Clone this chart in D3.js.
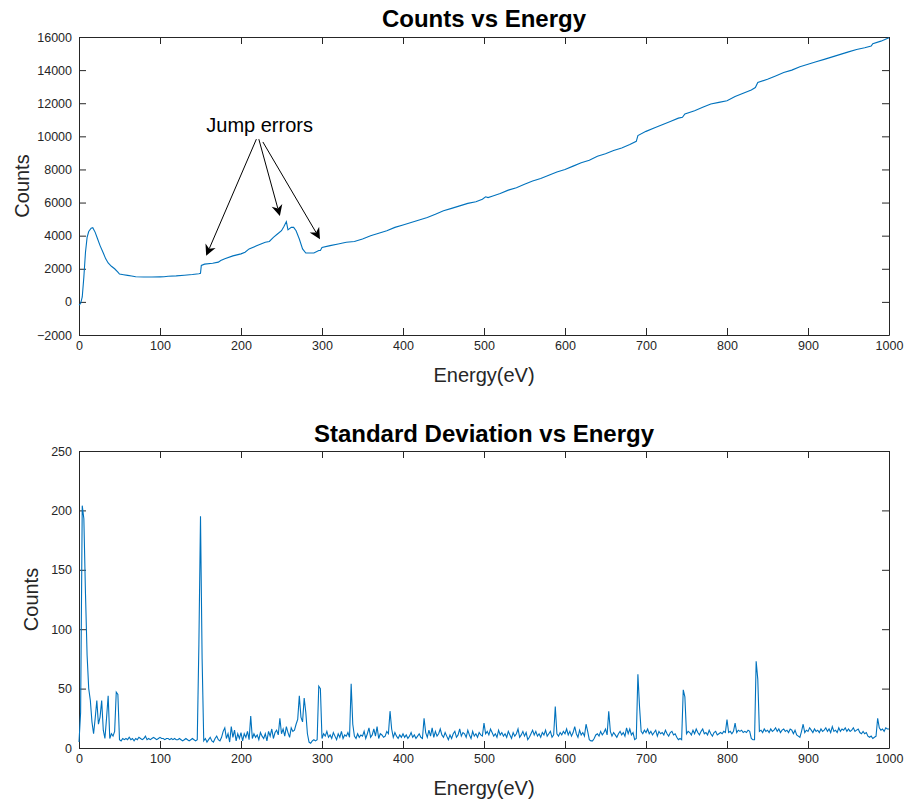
<!DOCTYPE html>
<html>
<head>
<meta charset="utf-8">
<script src="https://cdn.jsdelivr.net/npm/d3@7"></script>
<style>
  body { margin: 0; background: #fff; }
  text { font-family: 'Liberation Sans', Arial, Helvetica, sans-serif; }
</style>
</head>
<body>
<div id="chart"></div>
<script>
// counts vs energy
let countEnergy = [0, 2, 4, 6, 8, 10, 12, 15, 17, 20, 23, 26, 30, 33, 36, 40, 44, 48, 50, 55, 60, 65, 70, 80, 90, 100, 105, 110, 120, 130, 140, 148, 150, 151, 155, 165, 172, 175, 180, 190, 200, 205, 210, 220, 230, 235, 240, 245, 250, 253, 256, 258, 262, 265, 268, 272, 276, 280, 290, 296, 298, 300, 310, 320, 330, 340, 350, 360, 370, 380, 390, 400, 410, 420, 430, 440, 450, 460, 470, 480, 490, 498, 502, 505, 510, 520, 530, 540, 550, 560, 570, 580, 590, 600, 610, 620, 630, 640, 650, 660, 670, 680, 688, 690, 700, 710, 720, 730, 740, 745, 748, 760, 770, 780, 790, 800, 810, 820, 830, 835, 838, 850, 860, 870, 880, 890, 900, 910, 920, 930, 940, 950, 960, 970, 978, 980, 990, 1000]
let countValues = [-200, -100, 300, 1500, 3000, 3900, 4250, 4450, 4480, 4200, 3800, 3400, 2950, 2600, 2350, 2150, 2000, 1800, 1680, 1640, 1600, 1560, 1520, 1500, 1500, 1510, 1520, 1550, 1570, 1610, 1650, 1700, 1720, 2200, 2280, 2330, 2400, 2500, 2600, 2780, 2900, 3000, 3200, 3400, 3600, 3650, 3900, 4100, 4300, 4550, 4850, 4350, 4500, 4500, 4300, 3800, 3200, 2950, 2950, 3100, 3100, 3280, 3400, 3500, 3600, 3650, 3800, 4000, 4150, 4300, 4500, 4650, 4800, 4950, 5100, 5300, 5500, 5650, 5800, 5950, 6050, 6200, 6350, 6300, 6380, 6550, 6750, 6900, 7100, 7300, 7450, 7650, 7850, 8000, 8200, 8400, 8550, 8800, 8950, 9150, 9300, 9500, 9700, 10050, 10300, 10500, 10700, 10900, 11100, 11150, 11350, 11550, 11750, 11950, 12050, 12150, 12400, 12600, 12800, 12950, 13250, 13450, 13650, 13850, 14000, 14200, 14350, 14500, 14650, 14800, 14950, 15100, 15250, 15350, 15450, 15600, 15750, 15950]

// standard deviation, one reading every 2 eV
let sdValues = [
  5, 30, 204, 193, 130, 78, 50, 40, 22, 12, 25, 40, 20, 26, 40, 15, 8, 25, 44, 8, 12, 10, 14, 47, 45,
  7, 6, 8, 7, 8, 7, 9, 7, 8, 6, 8, 7, 9, 8, 7, 8, 10, 7, 8, 7, 8, 9, 8, 7, 8,
  9, 8, 8, 7, 8, 8, 7, 8, 7, 8, 7, 7, 8, 7, 6, 7, 8, 7, 6, 7, 8, 7, 6, 7, 87,
  195, 75, 6, 8, 5, 7, 9, 6, 5, 8, 10, 7, 6, 9, 14, 17, 8, 12, 5, 18, 9, 15, 6, 12, 8,
  13, 6, 12, 9, 14, 7, 27, 8, 12, 9, 11, 7, 13, 10, 8, 12, 6, 14, 10, 16, 8, 13, 15, 11, 25,
  12, 16, 10, 18, 13, 9, 17, 14, 15, 20, 24, 44, 26, 22, 42, 30, 12, 5, 4, 6, 7, 6, 7, 52, 50,
  8, 12, 10, 14, 9, 11, 8, 13, 10, 7, 12, 9, 14, 8, 11, 10, 13, 9, 54, 20, 10, 8, 12, 9, 11,
  10, 14, 8, 12, 17, 9, 11, 16, 10, 18, 8, 12, 11, 9, 10, 14, 12, 31, 16, 9, 13, 10, 8, 11, 9,
  12, 9, 11, 8, 10, 13, 9, 11, 8, 10, 12, 9, 8, 25, 13, 9, 15, 10, 17, 9, 14, 10, 12, 16, 11,
  9, 13, 10, 7, 11, 8, 12, 14, 9, 11, 16, 10, 13, 12, 9, 15, 11, 8, 14, 10, 12, 9, 13, 11, 10,
  21, 12, 14, 11, 16, 13, 10, 12, 9, 15, 11, 13, 10, 12, 9, 14, 11, 8, 13, 10, 12, 16, 9, 11, 14,
  10, 13, 7, 9, 12, 15, 11, 14, 10, 12, 9, 13, 11, 15, 10, 12, 14, 9, 11, 35, 12, 10, 13, 11, 14,
  12, 16, 11, 14, 10, 13, 18, 12, 9, 15, 11, 13, 10, 20, 14, 7, 6, 6, 8, 11, 12, 10, 14, 11, 13,
  16, 11, 31, 14, 10, 13, 11, 9, 12, 14, 11, 13, 10, 17, 12, 16, 11, 13, 7, 8, 62, 35, 14, 12, 15,
  13, 16, 12, 14, 11, 13, 15, 10, 14, 12, 13, 11, 15, 12, 10, 13, 14, 11, 12, 9, 7, 8, 7, 49, 43,
  12, 14, 13, 11, 15, 12, 16, 13, 11, 14, 16, 12, 13, 11, 15, 12, 10, 13, 14, 11, 12, 13, 12, 14, 13,
  24, 13, 14, 12, 14, 21, 13, 15, 14, 15, 13, 14, 13, 15, 14, 8, 7, 7, 73, 58, 14, 15, 13, 16, 14,
  15, 13, 16, 14, 15, 17, 14, 16, 13, 15, 16, 14, 15, 13, 16, 15, 12, 15, 11, 10, 9, 14, 20, 13, 15,
  14, 17, 15, 13, 16, 14, 15, 13, 16, 14, 15, 17, 14, 16, 13, 18, 14, 15, 13, 17, 14, 16, 15, 17, 14,
  16, 14, 15, 17, 14, 15, 16, 13, 12, 14, 12, 13, 10, 9, 10, 8, 9, 10, 25, 17, 15, 16, 14, 17, 16,
  16
]
let sdEnergy = d3.range(0, 1001, 2)

let energyTicks = [0, 100, 200, 300, 400, 500, 600, 700, 800, 900, 1000]
let countTicks = [-2000, 0, 2000, 4000, 6000, 8000, 10000, 12000, 14000, 16000]
let sdTicks = [0, 50, 100, 150, 200, 250]

// annotation: label spot and arrow tips, in data units
let jumpLabel = { energy: 223, counts: 10270, text: 'Jump errors' }
let jumpArrows = [
  { fromE: 219, fromC: 9830, toE: 157, toC: 2780 },
  { fromE: 222, fromC: 9830, toE: 248, toC: 5190 },
  { fromE: 227, fromC: 9660, toE: 297.5, toC: 3790 }
]

let axisColor = '#262626'
let lineColor = '#0072BD'

let width = 906
let height = 802
let left = 79
let right = 889

let svg = d3
  .select('#chart')
  .append('svg')
  .attr('width', width)
  .attr('height', height)

let xTop = d3.scaleLinear().domain([0, 1000]).range([left, right])
let yTop = d3.scaleLinear().domain([-2000, 16000]).range([335, 37])
let yBot = d3.scaleLinear().domain([0, 250]).range([748, 451])

function drawFrame(x, y, xTicks, yTicks, title, titleY, labelX) {
  let g = svg.append('g')
  let y0 = y.range()[0]
  let y1 = y.range()[1]

  g.append('g')
    .attr('transform', 'translate(0,' + y0 + ')')
    .call(d3.axisBottom(x).tickValues(xTicks).tickFormat(d3.format('d')).tickSizeInner(-7).tickSizeOuter(0).tickPadding(6))
  g.append('g')
    .attr('transform', 'translate(0,' + y1 + ')')
    .call(d3.axisTop(x).tickValues(xTicks).tickSizeInner(-7).tickSizeOuter(0).tickFormat(''))
  g.append('g')
    .attr('transform', 'translate(' + left + ',0)')
    .call(d3.axisLeft(y).tickValues(yTicks).tickFormat(d3.format('d')).tickSizeInner(-7).tickSizeOuter(0).tickPadding(7))
  g.append('g')
    .attr('transform', 'translate(' + right + ',0)')
    .call(d3.axisRight(y).tickValues(yTicks).tickSizeInner(-7).tickSizeOuter(0).tickFormat(''))

  g.selectAll('.domain, .tick line').attr('stroke', axisColor)
  g.selectAll('.tick text')
    .attr('fill', axisColor)
    .attr('font-size', 12.5)
    .style('font-family', "'Liberation Sans', Arial, sans-serif")

  g.append('text')
    .attr('x', (left + right) / 2)
    .attr('y', titleY)
    .attr('text-anchor', 'middle')
    .attr('font-size', 24)
    .attr('font-weight', 'bold')
    .text(title)

  g.append('text')
    .attr('x', (left + right) / 2)
    .attr('y', y0 + 47)
    .attr('text-anchor', 'middle')
    .attr('font-size', 20)
    .attr('fill', axisColor)
    .text('Energy(eV)')

  g.append('text')
    .attr('transform', 'translate(' + labelX + ',' + (y0 + y1) / 2 + ') rotate(-90)')
    .attr('text-anchor', 'middle')
    .attr('font-size', 20)
    .attr('fill', axisColor)
    .text('Counts')
}

drawFrame(xTop, yTop, energyTicks, countTicks, 'Counts vs Energy', 27, 29)
drawFrame(xTop, yBot, energyTicks, sdTicks, 'Standard Deviation vs Energy', 442, 38)

let countLine = d3
  .line()
  .x((d, i) => xTop(countEnergy[i]))
  .y(d => yTop(d))

svg
  .append('path')
  .datum(countValues)
  .attr('d', countLine)
  .attr('fill', 'none')
  .attr('stroke', lineColor)
  .attr('stroke-width', 1.1)

let sdLine = d3
  .line()
  .x((d, i) => xTop(sdEnergy[i]))
  .y(d => yBot(d))

svg
  .append('path')
  .datum(sdValues)
  .attr('d', sdLine)
  .attr('fill', 'none')
  .attr('stroke', lineColor)
  .attr('stroke-width', 1.1)

// annotation
svg
  .append('text')
  .attr('x', xTop(jumpLabel.energy))
  .attr('y', yTop(jumpLabel.counts))
  .attr('text-anchor', 'middle')
  .attr('font-size', 20)
  .text(jumpLabel.text)

jumpArrows.forEach(a => {
  let x1 = xTop(a.fromE)
  let y1 = yTop(a.fromC)
  let x2 = xTop(a.toE)
  let y2 = yTop(a.toC)
  let ang = Math.atan2(y2 - y1, x2 - x1)
  let headLen = 11
  let bx = x2 - headLen * 0.7 * Math.cos(ang)
  let by = y2 - headLen * 0.7 * Math.sin(ang)
  svg
    .append('line')
    .attr('x1', x1)
    .attr('y1', y1)
    .attr('x2', bx)
    .attr('y2', by)
    .attr('stroke', '#000')
    .attr('stroke-width', 1)
  // concave arrow head
  let pts = [
    [0, 0],
    [-headLen, -headLen / 2],
    [-headLen * 0.7, 0],
    [-headLen, headLen / 2]
  ]
  svg
    .append('path')
    .attr('d', 'M' + pts.map(p => p.join(',')).join('L') + 'Z')
    .attr('transform', 'translate(' + x2 + ',' + y2 + ') rotate(' + (ang * 180) / Math.PI + ')')
    .attr('fill', '#000')
})
</script>
</body>
</html>
